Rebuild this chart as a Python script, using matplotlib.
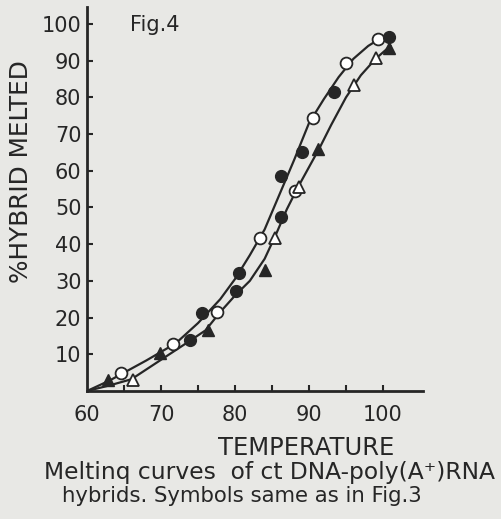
import matplotlib
matplotlib.use("Agg")
import matplotlib.pyplot as plt

# Fig.4 - melting curves of ct DNA-poly(A+)RNA hybrids
# values (temperature, % hybrid melted)

open_circ_t = [64.6, 71.6, 77.6, 83.4, 88.1, 90.6, 95.0, 99.3]
open_circ_y = [4.9, 12.8, 21.5, 41.7, 54.5, 74.4, 89.4, 95.9]

fill_circ_t = [73.9, 75.6, 80.2, 80.6, 86.2, 86.2, 89.1, 93.4, 100.8]
fill_circ_y = [13.9, 21.3, 27.2, 32.2, 47.4, 58.6, 65.1, 81.5, 96.5]

fill_tri_t = [62.8, 69.8, 76.3, 84.0, 91.2, 100.8]
fill_tri_y = [3.0, 10.4, 16.6, 33.0, 65.9, 93.5]

open_tri_t = [66.2, 85.4, 88.7, 96.1, 99.0]
open_tri_y = [3.0, 41.7, 55.6, 83.4, 90.7]

# hand drawn curves through the points
curve1_t = [60, 63, 65, 68, 72, 75, 78, 80, 82, 84, 86, 88, 89, 90, 92, 94, 96, 98, 100, 101]
curve1_y = [0, 2.8, 5, 8.3, 13, 18.5, 25, 30.5, 37, 44, 53.5, 63, 68, 73, 79.5, 85.5, 90.5, 94, 96.5, 97.5]

curve2_t = [60, 63, 66, 70, 74, 76, 78, 80, 82, 84, 85.5, 87, 88.5, 90, 91.5, 93, 95, 97, 99, 101]
curve2_y = [0, 1.5, 3.2, 8.5, 13.8, 16.5, 21.5, 26, 30, 36, 42.5, 49.5, 55.5, 61, 66.5, 72.5, 80, 86, 90.5, 94]

xticks = [65, 70, 75, 80, 85, 90, 95, 100]
xlabels = ["", "70", "", "80", "", "90", "", "100"]
yticks = [10, 20, 30, 40, 50, 60, 70, 80, 90, 100]

paper = "#e8e8e5"
ink = "#262626"

W, H = 501, 519
fig = plt.figure(figsize=(W / 100, H / 100), dpi=100, facecolor=paper)
ax = fig.add_axes([87 / W, 1 - 391 / H, (423 - 87) / W, (391 - 7) / H])
ax.set_facecolor(paper)

ax.plot(curve1_t, curve1_y, color=ink, lw=1.6, zorder=2)
ax.plot(curve2_t, curve2_y, color=ink, lw=1.6, zorder=2)

ms = 8.5
ax.plot(open_circ_t, open_circ_y, "o", ms=ms, mfc="white", mec=ink, mew=1.3, zorder=3)
ax.plot(fill_circ_t, fill_circ_y, "o", ms=ms, mfc=ink, mec=ink, zorder=3)
ax.plot(fill_tri_t, fill_tri_y, "^", ms=8, mfc=ink, mec=ink, zorder=3)
ax.plot(open_tri_t, open_tri_y, "^", ms=8, mfc="white", mec=ink, mew=1.3, zorder=3)

ax.set_xlim(60, 105.4)
ax.set_ylim(0, 104.6)

for s in ["top", "right"]:
    ax.spines[s].set_visible(False)
for s in ["left", "bottom"]:
    ax.spines[s].set_linewidth(2.0)
    ax.spines[s].set_color(ink)

ax.set_xticks(xticks)
ax.set_xticklabels(xlabels)
ax.set_yticks(yticks)
ax.set_yticklabels([str(v) for v in yticks])
ax.tick_params(axis="x", direction="in", length=4, width=1.5, color=ink,
               labelsize=15, labelcolor=ink, pad=10)
ax.tick_params(axis="y", direction="in", length=4, width=1.5, color=ink,
               labelsize=15, labelcolor=ink, pad=4)
# "60" label sits at the origin
ax.text(60, -3.8, "60", ha="center", va="top", fontsize=15, color=ink,
        transform=ax.transData, clip_on=False)

fig.text(130 / W, 1 - 25 / H, "Fig.4", ha="left", va="center", fontsize=15, color=ink)
fig.text(21 / W, 1 - 172 / H, "%HYBRID MELTED", rotation=90, ha="center", va="center",
         fontsize=17.8, color=ink)
fig.text(306 / W, 1 - 448 / H, "TEMPERATURE", ha="center", va="center",
         fontsize=17.5, color=ink)
fig.text(270 / W, 1 - 473 / H, "Meltinq curves  of ct DNA-poly(A\u207a)RNA",
         ha="center", va="center", fontsize=16.8, color=ink)
fig.text(242 / W, 1 - 496 / H, "hybrids. Symbols same as in Fig.3",
         ha="center", va="center", fontsize=15.3, color=ink)

fig.savefig("out.png", dpi=100, facecolor=paper)
